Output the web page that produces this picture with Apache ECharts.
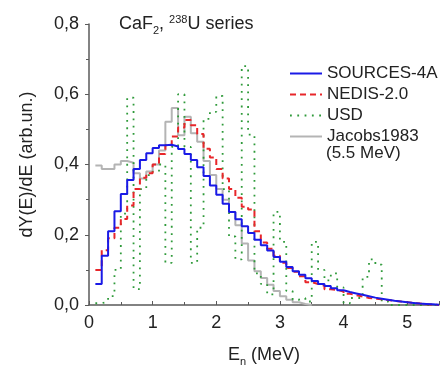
<!DOCTYPE html>
<html lang="en">
<head>
    <meta charset="UTF-8">
    <title>CaF2 238U neutron spectrum</title>
    <style>
        html, body { margin: 0; padding: 0; background: #fff; }
        #chart { width: 446px; height: 372px; }
    </style>
</head>
<body>
    <div id="chart"></div>
    <script src="https://cdn.jsdelivr.net/npm/echarts@6/dist/echarts.min.js"></script>
    <script type="text/javascript">
        // bins are 0.1 MeV wide, first bin starts at 0.1 MeV
        var binStart = 0.1;
        var binWidth = 0.1;

        var sources4a = [0.06, 0.14, 0.21, 0.267, 0.316, 0.356, 0.387, 0.413, 0.432, 0.447,
            0.455, 0.456, 0.451, 0.444, 0.43, 0.413, 0.392, 0.367, 0.34, 0.314,
            0.288, 0.265, 0.244, 0.224, 0.205, 0.186, 0.17, 0.155, 0.137, 0.123,
            0.108, 0.096, 0.086, 0.076, 0.068, 0.06, 0.054, 0.048, 0.042, 0.037,
            0.033, 0.029, 0.025, 0.021, 0.018, 0.015, 0.012, 0.01, 0.008, 0.006,
            0.004, 0.003, 0.002, 0.001];
        var nedis = [0.1, 0.156, 0.19, 0.22, 0.245, 0.283, 0.33, 0.362, 0.375, 0.4,
            0.43, 0.455, 0.48, 0.505, 0.527, 0.512, 0.487, 0.445, 0.42, 0.387,
            0.36, 0.33, 0.305, 0.28, 0.272, 0.21, 0.178, 0.16, 0.14, 0.12,
            0.105, 0.095, 0.082, 0.065, 0.06, 0.055, 0.045, 0.043, 0.038, 0.032,
            0.028, 0.024, 0.02, 0.018, 0.016, 0.014, 0.012, 0.01, 0.008, 0.006,
            0.004, 0.002, 0.001, 0];
        var usd = [0.005, 0.01, 0.025, 0.1, 0.26, 0.59, 0.045, 0.33, 0.37, 0.38,
            0.4, 0.12, 0.45, 0.6, 0.45, 0.12, 0.22, 0.53, 0.55, 0.595,
            0.33, 0.195, 0.13, 0.68, 0.485, 0.09, 0.06, 0.03, 0.265, 0.18,
            0.04, 0.015, 0.02, 0.01, 0.18, 0.1, 0.07, 0.09, 0.05, 0.005,
            0.02, 0.02, 0.08, 0.13, 0.115, 0.01, 0, 0, 0, 0,
            0, 0, 0, 0];
        var jacobs = [0.397, 0.387, 0.387, 0.4, 0.41, 0.405, 0.375, 0.36, 0.38, 0.4,
            0.44, 0.522, 0.561, 0.483, 0.536, 0.489, 0.465, 0.41, 0.37, 0.33,
            0.3, 0.265, 0.227, 0.175, 0.127, 0.096, 0.077, 0.058, 0.04, 0.025,
            0.015, 0.008, 0.003, 0];

        var names = ['SOURCES-4A', 'NEDIS-2.0', 'USD', 'Jacobs1983'];

        // histogram -> step points [binLeft, value], closed at the last bin edge
        function toSteps(vals) {
            var pts = [];
            for (var i = 0; i < vals.length; i++) {
                pts.push([+(binStart + i * binWidth).toFixed(2), vals[i]]);
            }
            pts.push([+(binStart + vals.length * binWidth).toFixed(2), 0]);
            return pts;
        }

        var font = 'Liberation Sans, Arial, sans-serif';
        var axisColor = '#5a5a5a';
        var txt = '#222';

        var chart = echarts.init(document.getElementById('chart'));
        chart.setOption({
            animation: false,
            backgroundColor: '#fff',
            textStyle: { fontFamily: font },
            title: {
                text: '{n|CaF}{sub|2}{n|, }{sup|238}{n|U series}',
                left: 114,
                top: 7,
                textStyle: {
                    fontWeight: 'normal',
                    rich: {
                        n: { fontSize: 18, color: txt, fontFamily: font, fontWeight: 'normal' },
                        sub: { fontSize: 11, color: txt, fontFamily: font, fontWeight: 'normal', padding: [13, 0, 0, 0] },
                        sup: { fontSize: 11, color: txt, fontFamily: font, fontWeight: 'normal', padding: [0, 0, 9, 0] }
                    }
                }
            },
            legend: {
                orient: 'vertical',
                left: 284,
                top: 60,
                itemWidth: 32,
                itemHeight: 14,
                itemGap: 4,
                data: names,
                itemStyle: { opacity: 0 },  // hide the symbol, keep the line sample
                textStyle: { fontSize: 17, lineHeight: 17, color: txt, fontFamily: font }
            },
            graphic: [{
                type: 'text',
                left: 326,
                top: 145,
                style: { text: '(5.5 MeV)', fontSize: 17, fill: txt, fontFamily: font }
            }],
            grid: { left: 89, right: 7, top: 24, bottom: 65 },
            xAxis: {
                type: 'value',
                min: 0,
                max: 5.5,
                interval: 1,
                name: '{n|E}{sub|n}{n| (MeV)}',
                nameLocation: 'middle',
                nameGap: 38,
                nameTextStyle: {
                    rich: {
                        n: { fontSize: 18, color: txt, fontFamily: font },
                        sub: { fontSize: 11, color: txt, fontFamily: font, padding: [13, 0, 0, 0] }
                    }
                },
                axisLine: { lineStyle: { color: axisColor, width: 1.5 } },
                axisTick: { inside: true, length: 4, lineStyle: { color: axisColor } },
                minorTick: { show: true, splitNumber: 2, length: 3, lineStyle: { color: axisColor } },
                axisLabel: { fontSize: 18, color: txt, margin: 9, showMaxLabel: false },
                splitLine: { show: false }
            },
            yAxis: {
                type: 'value',
                min: 0,
                max: 0.8,
                interval: 0.2,
                name: 'dY(E)/dE (arb.un.)',
                nameLocation: 'middle',
                nameGap: 53,
                nameTextStyle: { fontSize: 18, color: txt, fontFamily: font },
                axisLine: { show: true, lineStyle: { color: axisColor, width: 1.5 } },
                axisTick: { show: true, inside: false, length: 4, lineStyle: { color: axisColor } },
                minorTick: { show: true, splitNumber: 2, length: 3, lineStyle: { color: axisColor } },
                axisLabel: {
                    fontSize: 18, color: txt, margin: 10,
                    formatter: function (v) { return v.toFixed(1).replace('.', ','); }
                },
                splitLine: { show: false }
            },
            series: [
                {
                    name: 'Jacobs1983', type: 'line', step: 'end', symbol: 'none', z: 1,
                    data: toSteps(jacobs),
                    itemStyle: { color: '#b4b4b4' },
                    lineStyle: { color: '#b4b4b4', width: 2 }
                },
                {
                    name: 'USD', type: 'line', step: 'end', symbol: 'none', z: 2,
                    data: toSteps(usd),
                    itemStyle: { color: '#2f9a3a' },
                    lineStyle: { color: '#2f9a3a', width: 1.8, type: [1.8, 5.5] }
                },
                {
                    name: 'NEDIS-2.0', type: 'line', step: 'end', symbol: 'none', z: 3,
                    data: toSteps(nedis),
                    itemStyle: { color: '#e8262a' },
                    lineStyle: { color: '#e8262a', width: 2, type: [6, 4] }
                },
                {
                    name: 'SOURCES-4A', type: 'line', step: 'end', symbol: 'none', z: 4,
                    data: toSteps(sources4a),
                    itemStyle: { color: '#1a1ae6' },
                    lineStyle: { color: '#1a1ae6', width: 2 }
                }
            ]
        });
    </script>
</body>
</html>
